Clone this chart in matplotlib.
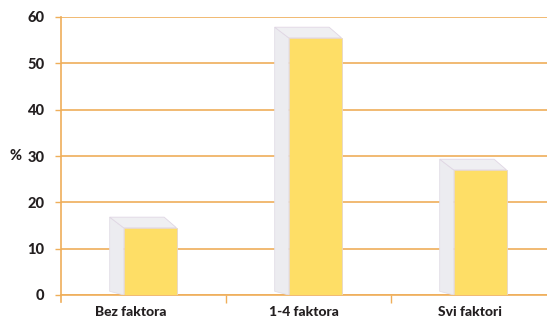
import matplotlib.pyplot as plt
from matplotlib.patches import Polygon

kategorije = ['Bez faktora', '1-4 faktora', 'Svi faktori']
postotci = [14.5, 55.5, 27.0]
y_ticks = [0, 10, 20, 30, 40, 50, 60]

narancasta = '#EFAE5A'
zuta = '#FEDE66'

plt.rcParams['font.family'] = ['Lato', 'DejaVu Sans']

fig = plt.figure(figsize=(5.47, 3.18), dpi=100)
ax = fig.add_axes([61 / 547, 23 / 318, 495 / 547, 278 / 318])

x = list(range(len(kategorije)))
lijevo, desno = -0.12, 0.2
dx_str, dy_str = 0.085, 2.3
dx_vrh = 0.075

for i, v in zip(x, postotci):
    fl, fr = i + lijevo, i + desno
    # bocna strana
    ax.add_patch(Polygon([(fl - dx_str, v + dy_str), (fl - dx_str, 0.8), (fl, 0), (fl, v)],
                         closed=True, facecolor='#ECECF0', edgecolor='#E2DEE6', lw=0.6, zorder=3))
    # gornja strana
    ax.add_patch(Polygon([(fl, v), (fl - dx_str, v + dy_str), (fr - dx_vrh, v + dy_str), (fr, v)],
                         closed=True, facecolor='#EFEFF2', edgecolor='#E0D6E4', lw=0.6, zorder=3))
    # prednja strana
    ax.bar(fl, v, width=fr - fl, align='edge', color=zuta, edgecolor='#E6D6C8', lw=0.6, zorder=4)

ax.set_xlim(-0.5, 2.5)
ax.set_ylim(0, 60)
ax.set_yticks(y_ticks)
ax.set_yticklabels([str(t) for t in y_ticks], fontweight='black', fontsize=10.5, color='#231F20')
ax.yaxis.grid(True, color=narancasta, lw=1.2, zorder=0)
ax.set_axisbelow(True)

ax.set_xticks([0.5, 1.5])
ax.set_xticklabels([])
ax.set_xticks([-0.08, 0.97, 1.98], minor=True)
ax.set_xticklabels(kategorije, minor=True, fontweight='black', fontsize=10, color='#231F20')
ax.tick_params(axis='x', which='minor', length=0, pad=8)
ax.tick_params(axis='x', which='major', length=6, width=1, color=narancasta)
ax.tick_params(axis='y', length=4, width=1, color=narancasta, pad=8)

for s in ['top', 'right']:
    ax.spines[s].set_visible(False)
ax.spines['left'].set_color(narancasta)
ax.spines['left'].set_linewidth(1.2)
ax.spines['left'].set_bounds(-1.5, 60)
ax.spines['bottom'].set_color(narancasta)
ax.spines['bottom'].set_linewidth(1.2)

fig.text(9 / 547, 1 - 156 / 318, '%', fontweight='black', fontsize=10.5, color='#231F20', va='center')

fig.savefig('out.png', dpi=100)
